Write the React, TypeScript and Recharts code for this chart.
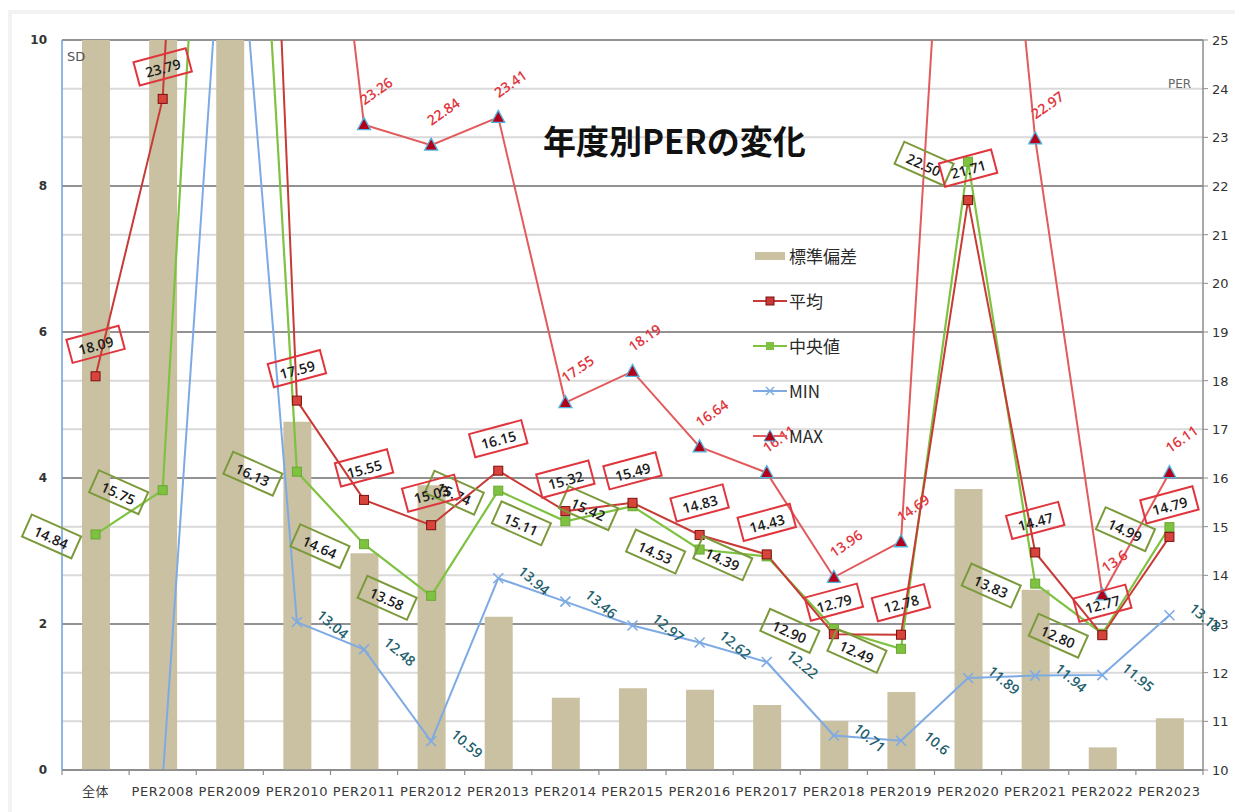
import React from 'react';
import { ComposedChart, Bar, Line, XAxis, YAxis, CartesianGrid, LabelList } from 'recharts';

const categories = ['全体', 'PER2008', 'PER2009', 'PER2010', 'PER2011', 'PER2012', 'PER2013', 'PER2014', 'PER2015', 'PER2016', 'PER2017', 'PER2018', 'PER2019', 'PER2020', 'PER2021', 'PER2022', 'PER2023'];
const sdValues = [14, 12, 40, 4.77, 2.97, 3.9, 2.1, 0.99, 1.12, 1.1, 0.89, 0.67, 1.07, 3.85, 2.47, 0.31, 0.71];
const meanValues = [18.09, 23.79, 50, 17.59, 15.55, 15.03, 16.15, 15.32, 15.49, 14.83, 14.43, 12.79, 12.78, 21.71, 14.47, 12.77, 14.79];
const medianValues = [14.84, 15.75, 39.7, 16.13, 14.64, 13.58, 15.74, 15.11, 15.42, 14.53, 14.39, 12.9, 12.49, 22.5, 13.83, 12.8, 14.99];
const minValues: (number | null)[] = [null, 9.8, 30, 13.04, 12.48, 10.59, 13.94, 13.46, 12.97, 12.62, 12.22, 10.71, 10.6, 11.89, 11.94, 11.95, 13.18];
const maxValues = [60, 70, 90, 35, 23.26, 22.84, 23.41, 17.55, 18.19, 16.64, 16.11, 13.96, 14.69, 37, 22.97, 13.6, 16.11];
const leftTicks = [0, 2, 4, 6, 8, 10];
const rightTicks = [10, 11, 12, 13, 14, 15, 16, 17, 18, 19, 20, 21, 22, 23, 24, 25];

const data = categories.map((name, i) => ({
  name,
  sd: sdValues[i],
  mean: meanValues[i],
  median: medianValues[i],
  min: minValues[i],
  max: maxValues[i],
}));

const W = 1235;
const H = 812;
const LEFT_W = 62;
const RIGHT_W = 32;
const TOP = 40;
const X_H = 30;
const BOTTOM_M = 12;
const BAND = (W - LEFT_W - RIGHT_W) / categories.length;

const C_BAR = '#c9c1a1';
const C_MEAN = '#c83a36';
const C_MEDIAN = '#7fc241';
const C_MIN = '#7eaae4';
const C_MAX = '#e25a5c';
const FONT = '"Noto Sans CJK JP", "DejaVu Sans", sans-serif';
const TFONT = '"DejaVu Sans", "Noto Sans CJK JP", sans-serif';
const LFONT = '"Open Sans", "DejaVu Sans", sans-serif';

const inRange = (v: any) => typeof v === 'number' && v >= 10 && v <= 25;

const getXY = (p: any) => {
  const x = p.x ?? p.viewBox?.x;
  const y = p.y ?? p.viewBox?.y;
  return { x, y };
};

const makeBoxLabel = (color: string, dx: number, dy: number, rot: number) => (p: any) => {
  const { x, y } = getXY(p);
  if (!inRange(p.value) || x == null || y == null) return null;
  return (
    <g transform={`translate(${x + dx},${y + dy}) rotate(${rot})`}>
      <rect x={-27} y={-12} width={54} height={24} fill="none" stroke={color} strokeWidth={2} />
      <text x={0} y={1} textAnchor="middle" dominantBaseline="central" fontFamily={LFONT} fontSize={14} fontWeight={600} fill="#1a1a1a">
        {Number(p.value).toFixed(2)}
      </text>
    </g>
  );
};

const makeTextLabel = (color: string, dx: number, dy: number, rot: number) => (p: any) => {
  const { x, y } = getXY(p);
  if (!inRange(p.value) || x == null || y == null) return null;
  return (
    <g transform={`translate(${x + dx},${y + dy}) rotate(${rot})`}>
      <text x={0} y={0} textAnchor="middle" dominantBaseline="central" fontFamily={LFONT} fontSize={14} fontWeight={600} fill={color}>
        {String(p.value)}
      </text>
    </g>
  );
};

const squareDot = (fill: string, stroke: string) => (p: any) => {
  const { cx, cy, index, value } = p;
  if (!inRange(value) || cx == null || cy == null) return <g key={`d${index}`} />;
  return <rect key={`d${index}`} x={cx - 4.5} y={cy - 4.5} width={9} height={9} fill={fill} stroke={stroke} strokeWidth={1} />;
};

const crossDot = (p: any) => {
  const { cx, cy, index, value } = p;
  if (!inRange(value) || cx == null || cy == null) return <g key={`d${index}`} />;
  return (
    <g key={`d${index}`} stroke={C_MIN} strokeWidth={1.6}>
      <line x1={cx - 5} y1={cy - 5} x2={cx + 5} y2={cy + 5} />
      <line x1={cx - 5} y1={cy + 5} x2={cx + 5} y2={cy - 5} />
    </g>
  );
};

const triDot = (p: any) => {
  const { cx, cy, index, value } = p;
  if (!inRange(value) || cx == null || cy == null) return <g key={`d${index}`} />;
  return (
    <polygon
      key={`d${index}`}
      points={`${cx},${cy - 7} ${cx + 6.5},${cy + 5} ${cx - 6.5},${cy + 5}`}
      fill="#b3001b"
      stroke="#52b4de"
      strokeWidth={1.3}
    />
  );
};

const XTick = (p: any) => {
  const { x, y, payload, index } = p;
  const half = BAND / 2;
  return (
    <g>
      <line x1={x - half} y1={y} x2={x - half} y2={y + 5} stroke="#8c8c8c" strokeWidth={1.2} />
      {index === categories.length - 1 && (
        <line x1={x + half} y1={y} x2={x + half} y2={y + 5} stroke="#8c8c8c" strokeWidth={1.2} />
      )}
      <text x={x} y={y + 26} textAnchor="middle" fontFamily={TFONT} fontSize={13} letterSpacing={0.6} fill="#3a3a3a">
        {payload.value}
      </text>
    </g>
  );
};

const LeftTick = (p: any) => {
  const { x, y, payload } = p;
  return (
    <text x={x} y={y + 4} textAnchor="end" fontFamily={TFONT} fontSize={12} fontWeight="bold" fill="#333">
      {payload.value}
    </text>
  );
};

const RightTick = (p: any) => {
  const { x, y, payload } = p;
  return (
    <text x={x} y={y + 5} textAnchor="start" fontFamily={TFONT} fontSize={13} fill="#333">
      {payload.value}
    </text>
  );
};

const legendItems = [
  { label: '標準偏差', type: 'bar' },
  { label: '平均', type: 'mean' },
  { label: '中央値', type: 'median' },
  { label: 'MIN', type: 'min' },
  { label: 'MAX', type: 'max' },
];

const LegendSwatch = ({ type }: { type: string }) => {
  if (type === 'bar') return <svg width={34} height={12}><rect x={2} y={2} width={30} height={8} fill={C_BAR} /></svg>;
  const color = type === 'mean' ? C_MEAN : type === 'median' ? C_MEDIAN : type === 'min' ? C_MIN : C_MAX;
  return (
    <svg width={34} height={14}>
      <line x1={0} y1={7} x2={34} y2={7} stroke={color} strokeWidth={2} />
      {type === 'mean' && <rect x={13} y={3} width={8} height={8} fill={C_MEAN} stroke="#7a1010" />}
      {type === 'median' && <rect x={13} y={3} width={8} height={8} fill={C_MEDIAN} />}
      {type === 'min' && (
        <g stroke={C_MIN} strokeWidth={1.5}>
          <line x1={13} y1={3} x2={21} y2={11} />
          <line x1={13} y1={11} x2={21} y2={3} />
        </g>
      )}
      {type === 'max' && <polygon points="17,1 23,12 11,12" fill="#b3001b" stroke="#52b4de" strokeWidth={1} />}
    </svg>
  );
};

export default function App() {
  return (
    <div style={{ position: 'absolute', left: 0, top: 0, width: W, height: H, background: '#fff', overflow: 'hidden' }}>
      <div style={{ position: 'absolute', left: 8, top: 10, width: W, height: H, borderTop: '4px solid #f2f2f2', borderLeft: '4px solid #f2f2f2' }} />
      <ComposedChart
        width={W}
        height={H}
        data={data}
        margin={{ top: TOP, right: 0, bottom: BOTTOM_M, left: 0 }}
        barCategoryGap="0%"
      >
        <CartesianGrid yAxisId="right" vertical={false} stroke="#d9d9d9" strokeWidth={2} />
        <CartesianGrid yAxisId="left" vertical={false} stroke="#929292" strokeWidth={2} />
        <XAxis
          dataKey="name"
          height={X_H}
          interval={0}
          tickLine={false}
          tickSize={0}
          tickMargin={0}
          axisLine={{ stroke: '#8c8c8c', strokeWidth: 1.5 }}
          tick={<XTick />}
        />
        <YAxis
          yAxisId="left"
          orientation="left"
          width={LEFT_W}
          domain={[0, 10]}
          ticks={leftTicks}
          allowDataOverflow
          tickLine={false}
          tickSize={0}
          tickMargin={15}
          axisLine={{ stroke: '#6f9fdc', strokeWidth: 1.5 }}
          tick={<LeftTick />}
        />
        <YAxis
          yAxisId="right"
          orientation="right"
          width={RIGHT_W}
          domain={[10, 25]}
          ticks={rightTicks}
          allowDataOverflow
          tickSize={5}
          tickMargin={4}
          tickLine={{ stroke: '#8c8c8c' }}
          axisLine={{ stroke: '#8c8c8c', strokeWidth: 1.5 }}
          tick={<RightTick />}
        />
        <Bar yAxisId="left" dataKey="sd" fill={C_BAR} barSize={28} isAnimationActive={false} />
        <Line yAxisId="right" dataKey="min" stroke={C_MIN} strokeWidth={2} dot={crossDot} activeDot={false} isAnimationActive={false} connectNulls={false}>
          <LabelList dataKey="min" content={makeTextLabel('#245f6e', 36, 2, 40)} />
        </Line>
        <Line yAxisId="right" dataKey="median" stroke={C_MEDIAN} strokeWidth={2.2} dot={squareDot(C_MEDIAN, '#6aa830')} activeDot={false} isAnimationActive={false}>
          <LabelList dataKey="median" content={makeBoxLabel('#7c9a3c', -44, 2, 24)} />
        </Line>
        <Line yAxisId="right" dataKey="mean" stroke={C_MEAN} strokeWidth={2} dot={squareDot('#d8443c', '#7a1010')} activeDot={false} isAnimationActive={false}>
          <LabelList dataKey="mean" content={makeBoxLabel('#e0353d', 0, -32, -15)} />
        </Line>
        <Line yAxisId="right" dataKey="max" stroke={C_MAX} strokeWidth={2} dot={triDot} activeDot={false} isAnimationActive={false}>
          <LabelList dataKey="max" content={makeTextLabel('#e0353d', 12, -34, -35)} />
        </Line>
      </ComposedChart>

      <div style={{ position: 'absolute', left: 67, top: 49, fontFamily: TFONT, fontSize: 13, color: '#555' }}>SD</div>
      <div style={{ position: 'absolute', left: 1168, top: 77, fontFamily: TFONT, fontSize: 12, color: '#666' }}>PER</div>
      <div style={{ position: 'absolute', left: 543, top: 116, fontFamily: FONT, fontSize: 33, fontWeight: 'bold', color: '#111', whiteSpace: 'nowrap' }}>
        年度別PERの変化
      </div>
      <div style={{ position: 'absolute', left: 753, top: 233 }}>
        {legendItems.map((it) => (
          <div key={it.label} style={{ display: 'flex', alignItems: 'center', height: 45, marginTop: 0 }}>
            <LegendSwatch type={it.type} />
            <span style={{ fontFamily: FONT, fontSize: 17, color: '#2a2a2a', marginLeft: 2, lineHeight: '20px' }}>{it.label}</span>
          </div>
        ))}
      </div>
    </div>
  );
}
